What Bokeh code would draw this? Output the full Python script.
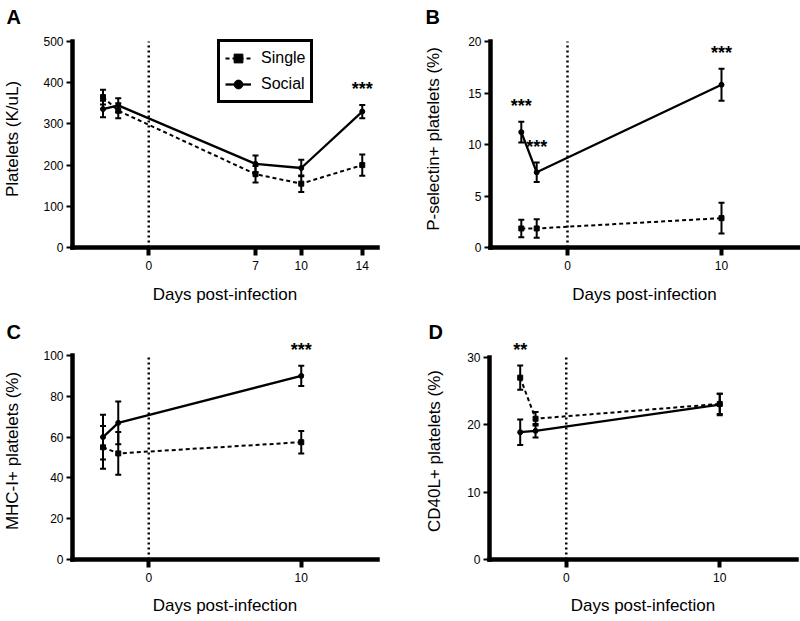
from bokeh.plotting import figure
from bokeh.models import (Range1d, Whisker, TeeHead, ColumnDataSource,
                          Legend, LegendItem, Label, FixedTicker)
from bokeh.layouts import column, row
from bokeh.embed import file_html
from bokeh.resources import INLINE

# ---------------- data ----------------
# Panel A: platelets (K/uL)
days_A = [-3, -2, 7, 10, 14]
single_A = [365, 332, 178, 155, 200]
single_A_err = [18, 18, 20, 20, 26]
social_A = [336, 345, 203, 193, 330]
social_A_err = [20, 17, 20, 20, 16]
sig_A_days = [14]
sig_A_text = ["***"]
xticks_A = [0, 7, 10, 14]

# Panel B: P-selectin+ platelets (%)
days_B = [-3, -2, 10]
single_B = [1.85, 1.85, 2.85]
single_B_err = [0.85, 0.9, 1.5]
social_B = [11.2, 7.3, 15.8]
social_B_err = [1.0, 0.95, 1.55]
sig_B_days = [-3, -2, 10]
sig_B_text = ["***", "***", "***"]
xticks_B = [0, 10]

# Panel C: MHC-I+ platelets (%)
days_C = [-3, -2, 10]
single_C = [55, 52, 57.5]
single_C_err = [10.5, 10.5, 5.5]
social_C = [60, 67, 90]
social_C_err = [11, 10.5, 5]
sig_C_days = [10]
sig_C_text = ["***"]
xticks_C = [0, 10]

# Panel D: CD40L+ platelets (%)
days_D = [-3, -2, 10]
single_D = [27.0, 20.9, 23.1]
single_D_err = [1.8, 1.0, 1.5]
social_D = [18.9, 19.1, 23.0]
social_D_err = [1.9, 1.0, 1.6]
sig_D_days = [-3]
sig_D_text = ["**"]
xticks_D = [0, 10]

FONT = "Liberation Sans"
W, H = 400, 310


def make_panel(letter, days, single, single_err, social, social_err,
               sig_days, sig_text, xticks, ymax, ystep, ylabel,
               L, R, axis_top, axis_bottom, frame_top, ylab_standoff,
               xlab_standoff, letter_offset, title_standoff, legend=False):
    B = H - axis_bottom
    y_end = ymax * (axis_bottom - frame_top) / (axis_bottom - axis_top)
    p = figure(width=W, height=H, min_border_left=L, min_border_right=R,
               min_border_top=frame_top, min_border_bottom=B,
               x_range=Range1d(-5, 15), y_range=Range1d(0, y_end),
               output_backend="svg", toolbar_location=None)
    p.outline_line_color = None
    p.xgrid.visible = False
    p.ygrid.visible = False

    # panel letter as title
    p.title.text = letter
    p.title.align = "left"
    p.title.offset = letter_offset
    p.title.standoff = title_standoff
    p.title.text_font = FONT
    p.title.text_font_size = "20px"
    p.title.text_font_style = "bold"
    p.title.text_color = "black"

    # axes
    p.xaxis.ticker = FixedTicker(ticks=xticks)
    p.yaxis.ticker = FixedTicker(ticks=list(range(0, ymax + 1, ystep)))
    p.yaxis.bounds = (0, ymax)
    for ax in (p.xaxis[0], p.yaxis[0]):
        ax.axis_line_width = 4.5
        ax.axis_line_cap = "square"
        ax.axis_line_color = "black"
        ax.major_tick_line_color = "black"
        ax.minor_tick_line_color = None
        ax.major_tick_in = 0
        ax.major_label_text_font = FONT
        ax.major_label_text_font_size = "12px"
        ax.major_label_text_color = "black"
        ax.axis_label_text_font = FONT
        ax.axis_label_text_font_size = "17px"
        ax.axis_label_text_font_style = "normal"
        ax.axis_label_text_color = "black"
    p.xaxis.major_tick_line_width = 4
    p.xaxis.major_tick_out = 8
    p.xaxis.major_label_standoff = 5
    p.xaxis.axis_label = "Days post-infection"
    p.xaxis.axis_label_standoff = xlab_standoff
    p.yaxis.major_tick_line_width = 2
    p.yaxis.major_tick_out = 6
    p.yaxis.major_label_standoff = 3
    p.yaxis.axis_label = ylabel
    p.yaxis.axis_label_standoff = ylab_standoff

    # infection day marker (dotted line at day 0 spanning the axis)
    p.segment(x0=[0], y0=[0], x1=[0], y1=[ymax], line_color="black",
              line_width=2.5, line_dash="2 3")

    # error bars
    for vals, errs in ((single, single_err), (social, social_err)):
        src = ColumnDataSource(dict(
            x=days,
            lower=[v - e for v, e in zip(vals, errs)],
            upper=[v + e for v, e in zip(vals, errs)]))
        p.add_layout(Whisker(source=src, base="x", lower="lower", upper="upper",
                             line_color="black", line_width=2,
                             upper_head=TeeHead(size=6, line_width=2, line_color="black"),
                             lower_head=TeeHead(size=6, line_width=2, line_color="black")))

    l1 = p.line(days, single, line_color="black", line_width=2, line_dash="4 3")
    m1 = p.scatter(days, single, marker="square", size=5, color="black")
    l2 = p.line(days, social, line_color="black", line_width=2.3)
    m2 = p.scatter(days, social, marker="circle", size=5, color="black")

    # significance stars
    for d, t in zip(sig_days, sig_text):
        i = days.index(d)
        top = max(single[i] + single_err[i], social[i] + social_err[i])
        p.add_layout(Label(x=d, y=top, y_offset=16, text=t, text_align="center",
                           text_baseline="alphabetic", text_font=FONT,
                           text_font_style="bold", text_font_size="18px",
                           text_color="black"))

    if legend:
        lg = Legend(items=[LegendItem(label="Single", renderers=[l1, m1]),
                           LegendItem(label="Social", renderers=[l2, m2])],
                    location=(145, 144), orientation="vertical")
        lg.border_line_color = "black"
        lg.border_line_alpha = 1
        lg.border_line_width = 3
        lg.background_fill_color = "white"
        lg.background_fill_alpha = 1
        lg.label_text_font = FONT
        lg.label_text_font_size = "16px"
        lg.label_text_color = "black"
        lg.glyph_width = 26
        lg.glyph_height = 22
        lg.label_height = 22
        lg.label_width = 20
        lg.label_standoff = 10
        lg.spacing = 4
        lg.padding = 5
        lg.margin = 0
        p.add_layout(lg)
    return p


pA = make_panel("A", days_A, single_A, single_A_err, social_A, social_A_err,
                sig_A_days, sig_A_text, xticks_A, 500, 100, "Platelets (K/uL)",
                L=69, R=23, axis_top=41, axis_bottom=247, frame_top=30,
                ylab_standoff=18, xlab_standoff=12, letter_offset=-66,
                title_standoff=6, legend=True)
pB = make_panel("B", days_B, single_B, single_B_err, social_B, social_B_err,
                sig_B_days, sig_B_text, xticks_B, 20, 5, "P-selectin+ platelets (%)",
                L=90, R=2, axis_top=41, axis_bottom=247, frame_top=30,
                ylab_standoff=22, xlab_standoff=12, letter_offset=-65,
                title_standoff=6)
pC = make_panel("C", days_C, single_C, single_C_err, social_C, social_C_err,
                sig_C_days, sig_C_text, xticks_C, 100, 20, "MHC-I+ platelets (%)",
                L=69, R=23, axis_top=45, axis_bottom=249, frame_top=32,
                ylab_standoff=18, xlab_standoff=11, letter_offset=-66,
                title_standoff=0)
pD = make_panel("D", days_D, single_D, single_D_err, social_D, social_D_err,
                sig_D_days, sig_D_text, xticks_D, 30, 10, "CD40L+ platelets (%)",
                L=89, R=4, axis_top=47, axis_bottom=250, frame_top=32,
                ylab_standoff=20, xlab_standoff=11, letter_offset=-61,
                title_standoff=0)

layout = column(row(pA, pB), row(pC, pD))
open("out.html", "w").write(file_html(layout, INLINE))
